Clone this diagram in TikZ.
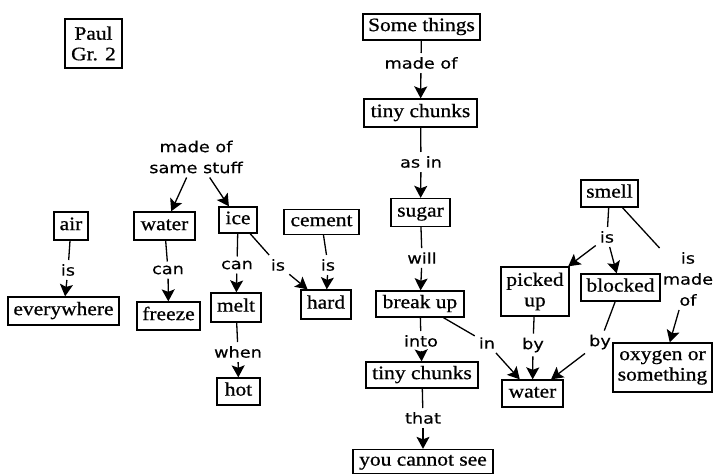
\documentclass[tikz,border=0pt]{standalone}
\usepackage{fontspec}
\setmainfont{Liberation Serif}[FakeStretch=1.13,FakeBold=0.8]
\newfontfamily\labfont{DejaVu Sans}[FakeStretch=1.18,FakeBold=0.4]
\usetikzlibrary{arrows.meta}
\tikzset{
  box/.style={draw, line width=1.3pt, inner sep=0pt, align=center,
    font=\fontsize{19}{20.5}\selectfont},
  lab/.style={inner sep=4pt, align=center,
    font=\labfont\fontsize{15}{21}\selectfont},
  link/.style={line width=1.3pt},
  arr/.style={line width=1.3pt, -{Stealth[length=12pt,width=13pt,inset=2.5pt]}},
}
\begin{document}
\begin{tikzpicture}[x=1pt,y=-1pt]
\useasboundingbox (0,0) rectangle (713,474);
% boxes
\node[box, minimum width=57pt, minimum height=49pt] (paul) at (93.5,43.5) {Paul\\Gr. 2};
\node[box, minimum width=117pt, minimum height=26pt] (some) at (421.5,27) {\strut Some things};
\node[box, minimum width=113pt, minimum height=28pt] (tiny1) at (420.5,113) {\strut tiny chunks};
\node[box, minimum width=59pt, minimum height=28pt] (sugar) at (420.5,212.5) {\strut sugar};
\node[box, minimum width=88pt, minimum height=26pt] (breakup) at (420,304) {\strut break up};
\node[box, minimum width=112pt, minimum height=26pt] (tiny2) at (422,375) {\strut tiny chunks};
\node[box, minimum width=140pt, minimum height=24pt] (cannot) at (423,461.5) {\strut you cannot see};
\node[box, minimum width=57pt, minimum height=27pt] (smell) at (609.5,193.5) {\strut smell};
\node[box, minimum width=68pt, minimum height=49pt] (picked) at (535,291.5) {picked\\up};
\node[box, minimum width=79pt, minimum height=27pt] (blocked) at (620.5,287.5) {\strut blocked};
\node[box, minimum width=61pt, minimum height=27pt] (water2) at (532.5,393.5) {\strut water};
\node[box, minimum width=99pt, minimum height=49pt] (oxygen) at (662.5,367.5) {oxygen or\\something};
\node[box, minimum width=34pt, minimum height=28pt] (air) at (71,226) {\strut air};
\node[box, minimum width=111pt, minimum height=28pt] (every) at (63.5,311) {\strut everywhere};
\node[box, minimum width=61pt, minimum height=28pt] (water1) at (164.5,226) {\strut water};
\node[box, minimum width=63pt, minimum height=28pt] (freeze) at (168.5,316) {\strut freeze};
\node[box, minimum width=38pt, minimum height=26pt] (ice) at (238,220) {\strut ice};
\node[box, minimum width=50pt, minimum height=29pt] (melt) at (236,307.5) {\strut melt};
\node[box, minimum width=43pt, minimum height=27pt] (hot) at (238.5,391.5) {\strut hot};
\node[box, minimum width=75pt, minimum height=25pt] (cement) at (321.5,222) {\strut cement};
\node[box, minimum width=50pt, minimum height=29pt] (hard) at (326,304.5) {\strut hard};
% labels
\node[lab] (lmade) at (421,63) {made of};
\node[lab] (lasin) at (421,162) {as in};
\node[lab] (lwill) at (422,258) {will};
\node[lab] (linto) at (421,341) {into};
\node[lab] (lthat) at (423,418) {that};
\node[lab] (lin) at (487,343) {in};
\node[lab] (lisair) at (68,270) {is};
\node[lab] (lcanw) at (168,270) {can};
\node[lab] (lcani) at (237,265) {can};
\node[lab] (lwhen) at (238,352) {when};
\node[lab] (lisice) at (278,265) {is};
\node[lab] (liscem) at (328,265) {is};
\node[lab] (lsame) at (196,157) {made of\\same stuff};
\node[lab] (lissmell) at (607,237) {is};
\node[lab] (lismadeof) at (688,279) {is\\made\\of};
\node[lab] (lby1) at (533,345) {by};
\node[lab] (lby2) at (600,342) {by};
% connectors
\draw[link] (some) -- (lmade);   \draw[arr] (lmade) -- (tiny1);
\draw[link] (tiny1) -- (lasin);  \draw[arr] (lasin) -- (sugar);
\draw[link] (sugar) -- (lwill);  \draw[arr] (lwill) -- (breakup);
\draw[link] (breakup) -- (linto);\draw[arr] (linto) -- (tiny2);
\draw[link] (tiny2) -- (lthat);  \draw[arr] (lthat) -- (cannot);
\draw[link] (breakup) -- (lin);  \draw[arr] (lin) -- (water2);
\draw[link] (air) -- (lisair);   \draw[arr] (lisair) -- (every);
\draw[link] (water1) -- (lcanw); \draw[arr] (lcanw) -- (freeze);
\draw[link] (ice) -- (lcani);    \draw[arr] (lcani) -- (melt);
\draw[link] (melt) -- (lwhen);   \draw[arr] (lwhen) -- (hot);
\draw[link] (ice) -- (lisice);   \draw[arr] (lisice) -- (hard);
\draw[link] (cement) -- (liscem);\draw[arr] (liscem) -- (hard);
\draw[arr] (lsame) -- (water1);
\draw[arr] (lsame) -- (ice);
\draw[link] (smell) -- (lissmell);
\draw[arr] (lissmell) -- (picked);
\draw[arr] (lissmell) -- (blocked);
\draw[link] (smell) -- (lismadeof); \draw[arr] (lismadeof) -- (oxygen);
\draw[link] (picked) -- (lby1);  \draw[arr] (lby1) -- (water2);
\draw[link] (blocked) -- (lby2); \draw[arr] (lby2) -- (water2);
\end{tikzpicture}
\end{document}
